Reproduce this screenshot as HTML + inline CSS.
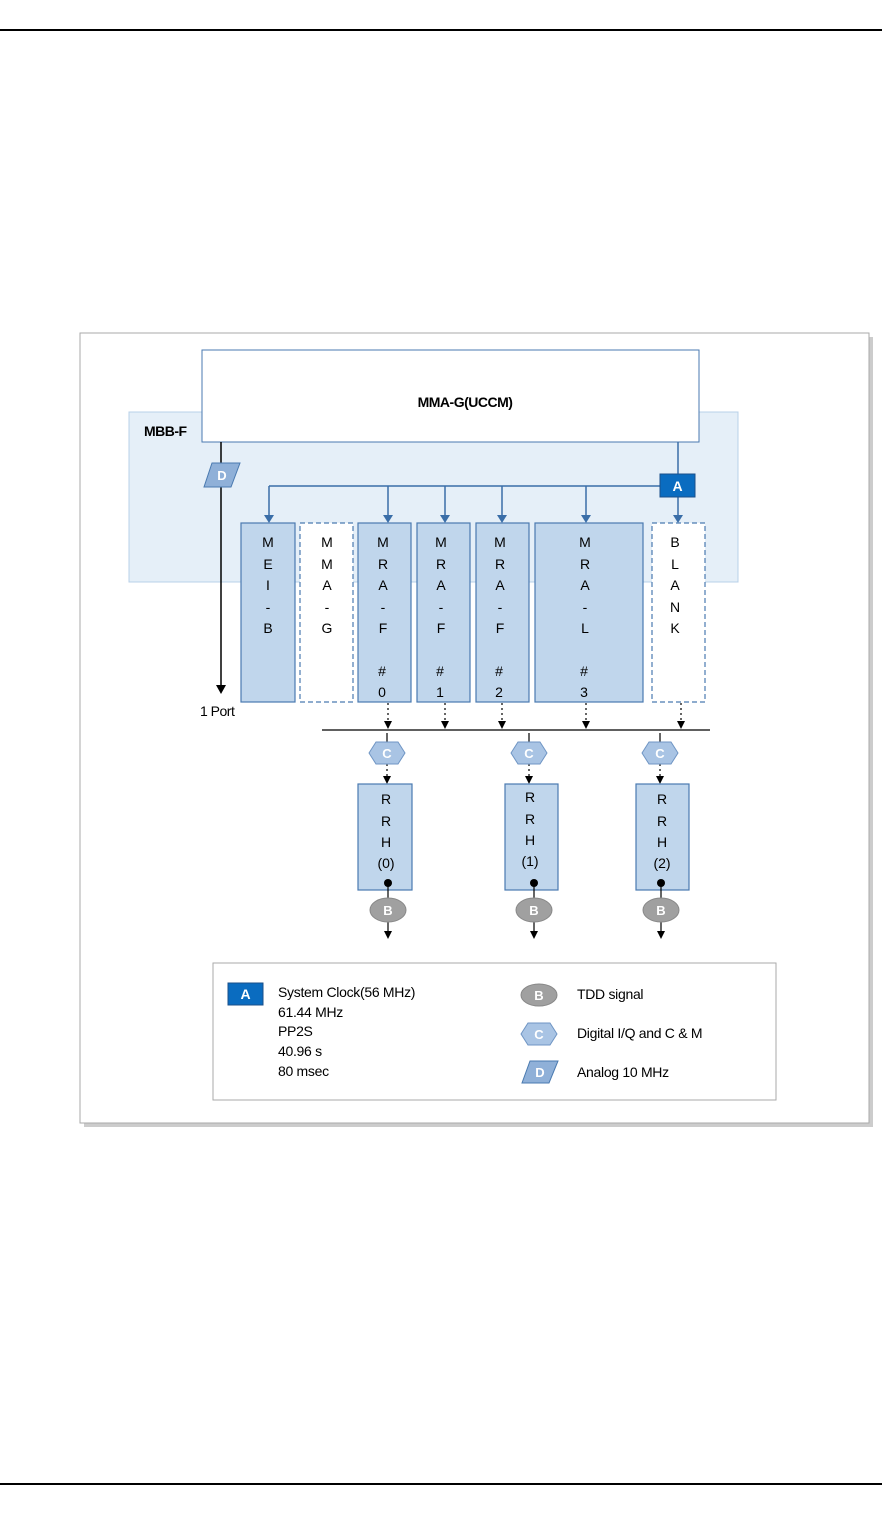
<!DOCTYPE html>
<html><head><meta charset="utf-8"><style>body{margin:0;background:#fff}svg{display:block}text{font-family:"Liberation Sans",sans-serif}</style></head><body>
<svg width="882" height="1514" viewBox="0 0 882 1514" xmlns="http://www.w3.org/2000/svg">
<defs>
<marker id="ar" markerWidth="8" markerHeight="8" refX="4" refY="7" orient="auto" markerUnits="userSpaceOnUse"><path d="M0,0 L8,0 L4,8z" fill="#000" transform="rotate(0)"/></marker>
</defs>
<line x1="0" y1="30" x2="882" y2="30" stroke="#000" stroke-width="2"/>
<line x1="0" y1="1484" x2="882" y2="1484" stroke="#000" stroke-width="2"/>
<rect x="84" y="337" width="789" height="790" fill="#ccc"/>
<rect x="80" y="333" width="789" height="790" fill="#fff" stroke="#aaa"/>
<rect x="129" y="412" width="609" height="170" fill="#e5eff8" stroke="#b8d0e8"/>
<text x="144" y="436" font-size="14" font-weight="bold" letter-spacing="-0.5">MBB-F</text>
<rect x="202" y="350" width="497" height="92" fill="#fff" stroke="#4a7ab0"/>
<text x="465" y="407" font-size="14" font-weight="bold" text-anchor="middle" letter-spacing="-0.5">MMA-G(UCCM)</text>
<g stroke="#3a6ea8" stroke-width="1.5" fill="none">
<line x1="678" y1="442" x2="678" y2="475"/>
<line x1="269" y1="486" x2="660" y2="486"/>
</g>
<g stroke="#3a6ea8" stroke-width="1.5">
<line x1="269" y1="486" x2="269" y2="516"/><line x1="388" y1="486" x2="388" y2="516"/><line x1="445" y1="486" x2="445" y2="516"/><line x1="502" y1="486" x2="502" y2="516"/><line x1="586" y1="486" x2="586" y2="516"/><line x1="678" y1="497" x2="678" y2="516"/>
</g>
<g fill="#3a6ea8">
<path d="M264,515 h10 l-5,8z"/><path d="M383,515 h10 l-5,8z"/><path d="M440,515 h10 l-5,8z"/><path d="M497,515 h10 l-5,8z"/><path d="M581,515 h10 l-5,8z"/><path d="M673,515 h10 l-5,8z"/>
</g>
<rect x="660" y="474" width="35" height="23" fill="#0a6cc0" stroke="#1a4f8a"/>
<text x="677.5" y="491" font-size="14" font-weight="bold" fill="#fff" text-anchor="middle">A</text>
<line x1="221" y1="442" x2="221" y2="686" stroke="#000" stroke-width="1.5"/>
<path d="M216,685 h10 l-5,9z" fill="#000"/>
<path d="M212,463 h28 l-9,24 h-27z" fill="#8fb0d8" stroke="#4a7ab0"/>
<text x="222" y="480" font-size="13" font-weight="bold" fill="#fff" text-anchor="middle">D</text>
<text x="200" y="716" font-size="14" letter-spacing="-0.5">1 Port</text>
<g stroke="#4a7ab0" stroke-width="1.2">
<rect x="241" y="523" width="54" height="179" fill="#c0d6ec"/>
<rect x="300" y="523" width="53" height="179" fill="#fff" stroke-dasharray="5,3"/>
<rect x="358" y="523" width="53" height="179" fill="#c0d6ec"/>
<rect x="417" y="523" width="53" height="179" fill="#c0d6ec"/>
<rect x="476" y="523" width="53" height="179" fill="#c0d6ec"/>
<rect x="535" y="523" width="108" height="179" fill="#c0d6ec"/>
<rect x="652" y="523" width="53" height="179" fill="#fff" stroke-dasharray="5,3"/>
</g>
<g font-size="14" text-anchor="middle">
<text x="268" y="547">M</text><text x="268" y="569">E</text><text x="268" y="590">I</text><text x="268" y="612">-</text><text x="268" y="633">B</text>
<text x="327" y="547">M</text><text x="327" y="569">M</text><text x="327" y="590">A</text><text x="327" y="612">-</text><text x="327" y="633">G</text>
<text x="383" y="547">M</text><text x="383" y="569">R</text><text x="383" y="590">A</text><text x="383" y="612">-</text><text x="383" y="633">F</text><text x="382" y="676">#</text><text x="382" y="697">0</text>
<text x="441" y="547">M</text><text x="441" y="569">R</text><text x="441" y="590">A</text><text x="441" y="612">-</text><text x="441" y="633">F</text><text x="440" y="676">#</text><text x="440" y="697">1</text>
<text x="500" y="547">M</text><text x="500" y="569">R</text><text x="500" y="590">A</text><text x="500" y="612">-</text><text x="500" y="633">F</text><text x="499" y="676">#</text><text x="499" y="697">2</text>
<text x="585" y="547">M</text><text x="585" y="569">R</text><text x="585" y="590">A</text><text x="585" y="612">-</text><text x="585" y="633">L</text><text x="584" y="676">#</text><text x="584" y="697">3</text>
<text x="675" y="547">B</text><text x="675" y="569">L</text><text x="675" y="590">A</text><text x="675" y="612">N</text><text x="675" y="633">K</text>
</g>
<g stroke="#000" stroke-width="1.2" stroke-dasharray="2,3">
<line x1="388" y1="703" x2="388" y2="722"/><line x1="445" y1="703" x2="445" y2="722"/><line x1="502" y1="703" x2="502" y2="722"/><line x1="586" y1="703" x2="586" y2="722"/><line x1="681" y1="703" x2="681" y2="722"/>
<line x1="387" y1="764" x2="387" y2="777"/><line x1="529" y1="764" x2="529" y2="777"/><line x1="660" y1="764" x2="660" y2="777"/>
</g>
<g fill="#000">
<path d="M384,721 h8 l-4,8z"/><path d="M441,721 h8 l-4,8z"/><path d="M498,721 h8 l-4,8z"/><path d="M582,721 h8 l-4,8z"/><path d="M677,721 h8 l-4,8z"/>
<path d="M383,776 h8 l-4,8z"/><path d="M525,776 h8 l-4,8z"/><path d="M656,776 h8 l-4,8z"/>
</g>
<line x1="322" y1="730" x2="710" y2="730" stroke="#000" stroke-width="1.2"/>
<g stroke="#000" stroke-width="1.2"><line x1="387" y1="733" x2="387" y2="742"/><line x1="529" y1="733" x2="529" y2="742"/><line x1="660" y1="733" x2="660" y2="742"/></g>
<g fill="#a9c4e4" stroke="#6f95c4">
<path d="M369,753 l7,-11 h22 l7,11 l-7,11 h-22z"/>
<path d="M511,753 l7,-11 h22 l7,11 l-7,11 h-22z"/>
<path d="M642,753 l7,-11 h22 l7,11 l-7,11 h-22z"/>
</g>
<g font-size="13" font-weight="bold" fill="#fff" text-anchor="middle"><text x="387" y="758">C</text><text x="529" y="758">C</text><text x="660" y="758">C</text></g>
<g fill="#c0d6ec" stroke="#4a7ab0" stroke-width="1.2">
<rect x="358" y="784" width="54" height="106"/><rect x="505" y="784" width="53" height="106"/><rect x="636" y="784" width="53" height="106"/>
</g>
<g font-size="14" text-anchor="middle">
<text x="386" y="804">R</text><text x="386" y="826">R</text><text x="386" y="847">H</text><text x="386" y="868">(0)</text>
<text x="530" y="802">R</text><text x="530" y="824">R</text><text x="530" y="845">H</text><text x="530" y="866">(1)</text>
<text x="662" y="804">R</text><text x="662" y="826">R</text><text x="662" y="847">H</text><text x="662" y="868">(2)</text>
</g>
<g stroke="#000" stroke-width="1.2">
<line x1="388" y1="883" x2="388" y2="898"/><line x1="534" y1="883" x2="534" y2="898"/><line x1="661" y1="883" x2="661" y2="898"/>
<line x1="388" y1="922" x2="388" y2="932"/><line x1="534" y1="922" x2="534" y2="932"/><line x1="661" y1="922" x2="661" y2="932"/>
</g>
<g fill="#000"><circle cx="388" cy="883" r="4"/><circle cx="534" cy="883" r="4"/><circle cx="661" cy="883" r="4"/>
<path d="M384,931 h8 l-4,8z"/><path d="M530,931 h8 l-4,8z"/><path d="M657,931 h8 l-4,8z"/></g>
<g fill="#a0a0a0" stroke="#888"><ellipse cx="388" cy="910" rx="18" ry="12"/><ellipse cx="534" cy="910" rx="18" ry="12"/><ellipse cx="661" cy="910" rx="18" ry="12"/></g>
<g font-size="13" font-weight="bold" fill="#fff" text-anchor="middle"><text x="388" y="915">B</text><text x="534" y="915">B</text><text x="661" y="915">B</text></g>
<rect x="213" y="963" width="563" height="137" fill="#fff" stroke="#aaa"/>
<rect x="228" y="983" width="35" height="22" fill="#0a6cc0" stroke="#1a4f8a"/>
<text x="245.5" y="999" font-size="14" font-weight="bold" fill="#fff" text-anchor="middle">A</text>
<g font-size="14" letter-spacing="-0.3"><text x="278" y="997">System Clock(56 MHz)</text><text x="278" y="1017">61.44 MHz</text><text x="278" y="1036">PP2S</text><text x="278" y="1056">40.96 s</text><text x="278" y="1076">80 msec</text>
<text x="577" y="999">TDD signal</text><text x="577" y="1038">Digital I/Q and C &amp; M</text><text x="577" y="1077">Analog 10 MHz</text></g>
<ellipse cx="539" cy="995" rx="18" ry="11" fill="#a0a0a0" stroke="#888"/>
<text x="539" y="1000" font-size="13" font-weight="bold" fill="#fff" text-anchor="middle">B</text>
<path d="M521,1034 l7,-11 h22 l7,11 l-7,11 h-22z" fill="#a9c4e4" stroke="#6f95c4"/>
<text x="539" y="1039" font-size="13" font-weight="bold" fill="#fff" text-anchor="middle">C</text>
<path d="M530,1061 h28 l-9,22 h-27z" fill="#8fb0d8" stroke="#4a7ab0"/>
<text x="540" y="1077" font-size="13" font-weight="bold" fill="#fff" text-anchor="middle">D</text>
</svg>
</body></html>
